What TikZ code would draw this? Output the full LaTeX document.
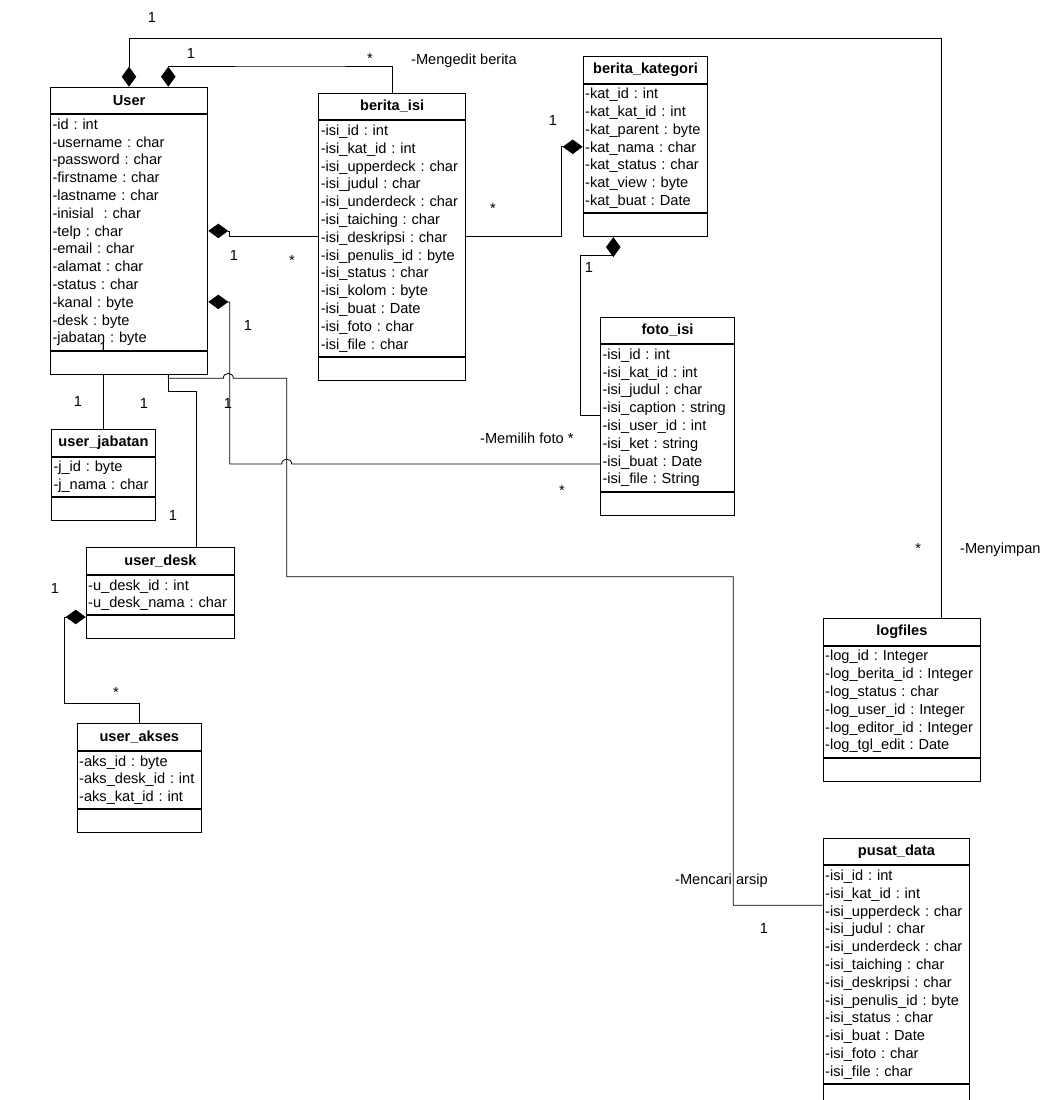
\documentclass[tikz,border=0pt]{standalone}
\usepackage{fontspec}
\setmainfont{Liberation Sans}
\frenchspacing
\usetikzlibrary{arrows.meta}
\usetikzlibrary{calc}

\begin{document}
\begin{tikzpicture}[
    x=1pt, y=-1pt,
    % Class compartments (title, attributes, empty operations part)
    clsTitle/.style={
        draw, line width=1pt, anchor=north west, inner sep=0pt,
        minimum height=26.5pt,
        font=\fontsize{14.6}{17.8}\selectfont\bfseries
    },
    clsAttr/.style={
        draw, line width=1pt, anchor=north west,
        inner xsep=2pt, inner ysep=0pt, align=left,
        font=\fontsize{14.6}{17.8}\selectfont
    },
    clsFoot/.style={
        draw, line width=1pt, anchor=north west, minimum height=23pt
    },
    % Composition (filled diamond) and plain association
    Comp/.style={
        draw, line width=0.8pt,
        {Diamond[length=20pt, width=14.5pt]}-
    },
    Assoc/.style={draw, line width=0.8pt},
    % Multiplicities and role names
    lbl/.style={inner sep=0pt, anchor=base, font=\fontsize{14.6}{17.8}\selectfont}
]

    \fill[white] (0,0) rectangle (1048,1100);
    \useasboundingbox (0,0) rectangle (1048,1100);

    % --- 1. THE CLASSES ---
    % User
    \node[clsTitle, minimum width=157.3pt] (User-t) at (50,86.7) {User};
    \node[clsAttr, text width=153.3pt, minimum height=235.4pt] (User-a) at (User-t.south west) {%
        -id : int\\-username : char\\-password : char\\-firstname : char\\-lastname : char\\%
        -inisial \ : char\\-telp : char\\-email : char\\-alamat : char\\-status : char\\%
        -kanal : byte\\-desk : byte\\-jabatan : byte};
    \node[clsFoot, minimum width=157.3pt] (User-b) at (User-a.south west) {};

    % berita_isi
    \node[clsTitle, minimum width=146.7pt] (Berita-t) at (318.3,92.7) {berita\_isi};
    \node[clsAttr, text width=142.7pt, minimum height=235.4pt] (Berita-a) at (Berita-t.south west) {%
        -isi\_id : int\\-isi\_kat\_id : int\\-isi\_upperdeck : char\\-isi\_judul : char\\%
        -isi\_underdeck : char\\-isi\_taiching : char\\-isi\_deskripsi : char\\%
        -isi\_penulis\_id : byte\\-isi\_status : char\\-isi\_kolom : byte\\%
        -isi\_buat : Date\\-isi\_foto : char\\-isi\_file : char};
    \node[clsFoot, minimum width=146.7pt] (Berita-b) at (Berita-a.south west) {};

    % berita_kategori
    \node[clsTitle, minimum width=124.6pt] (Kategori-t) at (582.7,56) {berita\_kategori};
    \node[clsAttr, text width=120.6pt, minimum height=128.6pt] (Kategori-a) at (Kategori-t.south west) {%
        -kat\_id : int\\-kat\_kat\_id : int\\-kat\_parent : byte\\-kat\_nama : char\\%
        -kat\_status : char\\-kat\_view : byte\\-kat\_buat : Date};
    \node[clsFoot, minimum width=124.6pt] (Kategori-b) at (Kategori-a.south west) {};

    % foto_isi
    \node[clsTitle, minimum width=134pt] (Foto-t) at (600,316.7) {foto\_isi};
    \node[clsAttr, text width=130pt, minimum height=146.4pt] (Foto-a) at (Foto-t.south west) {%
        -isi\_id : int\\-isi\_kat\_id : int\\-isi\_judul : char\\-isi\_caption : string\\%
        -isi\_user\_id : int\\-isi\_ket : string\\-isi\_buat : Date\\-isi\_file : String};
    \node[clsFoot, minimum width=134pt] (Foto-b) at (Foto-a.south west) {};

    % user_jabatan
    \node[clsTitle, minimum width=104pt] (Jabatan-t) at (51,429.3) {user\_jabatan};
    \node[clsAttr, text width=100pt, minimum height=39.6pt] (Jabatan-a) at (Jabatan-t.south west) {%
        -j\_id : byte\\-j\_nama : char};
    \node[clsFoot, minimum width=104pt] (Jabatan-b) at (Jabatan-a.south west) {};

    % user_desk
    \node[clsTitle, minimum width=148.6pt] (Desk-t) at (85.7,547.3) {user\_desk};
    \node[clsAttr, text width=144.6pt, minimum height=39.6pt] (Desk-a) at (Desk-t.south west) {%
        -u\_desk\_id : int\\-u\_desk\_nama : char};
    \node[clsFoot, minimum width=148.6pt] (Desk-b) at (Desk-a.south west) {};

    % user_akses
    \node[clsTitle, minimum width=124.3pt] (Akses-t) at (76.7,723.3) {user\_akses};
    \node[clsAttr, text width=120.3pt, minimum height=57.4pt] (Akses-a) at (Akses-t.south west) {%
        -aks\_id : byte\\-aks\_desk\_id : int\\-aks\_kat\_id : int};
    \node[clsFoot, minimum width=124.3pt] (Akses-b) at (Akses-a.south west) {};

    % logfiles
    \node[clsTitle, minimum width=157.3pt] (Logfiles-t) at (822.7,618.3) {logfiles};
    \node[clsAttr, text width=153.3pt, minimum height=110.8pt] (Logfiles-a) at (Logfiles-t.south west) {%
        -log\_id : Integer\\-log\_berita\_id : Integer\\-log\_status : char\\%
        -log\_user\_id : Integer\\-log\_editor\_id : Integer\\-log\_tgl\_edit : Date};
    \node[clsFoot, minimum width=157.3pt] (Logfiles-b) at (Logfiles-a.south west) {};

    % pusat_data
    \node[clsTitle, minimum width=146.6pt] (Pusat-t) at (822.7,837.7) {pusat\_data};
    \node[clsAttr, text width=142.6pt, minimum height=217.6pt] (Pusat-a) at (Pusat-t.south west) {%
        -isi\_id : int\\-isi\_kat\_id : int\\-isi\_upperdeck : char\\-isi\_judul : char\\%
        -isi\_underdeck : char\\-isi\_taiching : char\\-isi\_deskripsi : char\\%
        -isi\_penulis\_id : byte\\-isi\_status : char\\-isi\_buat : Date\\%
        -isi\_foto : char\\-isi\_file : char};
    \node[clsFoot, minimum width=146.6pt] (Pusat-b) at (Pusat-a.south west) {};

    % --- 2. THE CONNECTORS ---
    % Bend points
    \coordinate (railLog) at (941,38);
    \coordinate (railBerita) at (300,66);
    \coordinate (railFoto) at (580.7,255);
    \coordinate (hopA1) at (223.3,378.3);
    \coordinate (hopA2) at (233.3,378.3);
    \coordinate (hopB1) at (281.7,464);
    \coordinate (hopB2) at (291.7,464);
    \coordinate (bendP1) at (286.7,576.7);
    \coordinate (bendP2) at (733.3,576.7);
    \coordinate (bendDesk) at (180,391.7);
    \coordinate (railAkses) at (100,703.3);

    % User -- logfiles (Menyimpan)
    \draw[Comp] ([xshift=79pt]User-t.north west) |- (railLog) -| ([xshift=118.3pt]Logfiles-t.north west);
    % User -- berita_isi (Mengedit berita)
    \draw[Comp] ([xshift=118.3pt]User-t.north west) |- (railBerita) -| (Berita-t.north);
    % User -- berita_isi, side
    \draw[Comp] ([yshift=-116.7pt]User-a.north east) -- ++(21.5,0) |- ([yshift=-115.7pt]Berita-a.north west);
    % berita_kategori -- berita_isi
    \draw[Comp] ([yshift=-63.3pt]Kategori-a.north west) -- ++(-21,0) |- ([yshift=-115.7pt]Berita-a.north east);
    % berita_kategori -- foto_isi
    \draw[Comp] ([xshift=30.6pt]Kategori-b.south west) |- (railFoto) |- ([yshift=-71pt]Foto-a.north west);
    % User -- foto_isi (Memilih foto), hops over the line to pusat_data
    \draw[Comp] ([yshift=-187.7pt]User-a.north east) -- ++(21.5,0) |- (hopB1)
        .. controls (281.7,457.5) and (291.7,457.5) .. (hopB2) -- (hopB2 -| Foto-a.west);
    % User -- pusat_data (Mencari arsip)
    \draw[Assoc] ([xshift=118.3pt]User-b.south west) |- (hopA1)
        .. controls (223.3,371.8) and (233.3,371.8) .. (hopA2) -| (bendP1) -- (bendP2)
        |- ([yshift=-40pt]Pusat-a.north west);
    % User -- user_desk
    \draw[Assoc] ([xshift=118.3pt]User-b.south west) |- (bendDesk) -| ([xshift=111pt]Desk-t.north west);
    % User -- user_jabatan
    \draw[Assoc] (Jabatan-t.north) -- (Jabatan-t.north |- User-b.south);
    % user_desk -- user_akses
    \draw[Comp] ([yshift=-1.6pt]Desk-a.south west) -- ++(-21.5,0) |- (railAkses) -| (Akses-t.north);

    % --- 3. MULTIPLICITIES AND ROLES ---
    \node[lbl] (mLogA) at (152,22.3) {1};
    \node[lbl] (mBeritaA) at (191,58) {1};
    \node[lbl] (mBeritaB) at (370,63.7) {*};
    \node[lbl, anchor=base west] (rEdit) at (411,64.5) {-Mengedit berita};
    \node[lbl] (mKatA) at (553,125.3) {1};
    \node[lbl] (mKatB) at (493,213.7) {*};
    \node[lbl] (mKatFoto) at (589,272.3) {1};
    \node[lbl] (mSideA) at (234,260.3) {1};
    \node[lbl] (mSideB) at (292,265.4) {*};
    \node[lbl] (mFotoA) at (248,330.3) {1};
    \node[lbl] (mJabA) at (103.3,352.3) {1};
    \node[lbl] (mJabB) at (78,406) {1};
    \node[lbl] (mDeskA) at (144,408) {1};
    \node[lbl] (mPusatA) at (228,408) {1};
    \node[lbl] (mDeskB) at (173,520.3) {1};
    \node[lbl, anchor=base west] (rFoto) at (480,443.3) {-Memilih foto *};
    \node[lbl] (mFotoB) at (562,495.4) {*};
    \node[lbl] (mLogB) at (918.3,553.7) {*};
    \node[lbl, anchor=base west] (rSimpan) at (960,553.5) {-Menyimpan};
    \node[lbl] (mAksesA) at (55,593.6) {1};
    \node[lbl] (mAksesB) at (116,697) {*};
    \node[lbl, anchor=base west] (rArsip) at (675,884) {-Mencari arsip};
    \node[lbl] (mPusatB) at (764,933.6) {1};

\end{tikzpicture}
\end{document}
